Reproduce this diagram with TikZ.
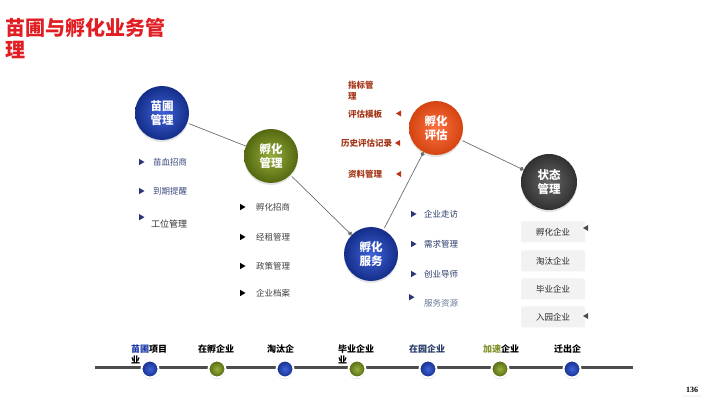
\documentclass[tikz,border=0pt]{standalone}
\usepackage{fontspec}
\setmainfont{Noto Sans CJK SC}
\newfontfamily\numfont{Liberation Serif}
\usetikzlibrary{arrows.meta,shadows}
\definecolor{titlered}{RGB}{225,30,35}
\definecolor{cblue}{RGB}{30,70,210}
\definecolor{cgreen}{RGB}{130,160,25}
\definecolor{corange}{RGB}{250,80,20}
\definecolor{cdark}{RGB}{75,75,75}
\definecolor{evalred}{RGB}{165,55,25}
\definecolor{evaltri}{RGB}{190,50,25}
\definecolor{navy}{RGB}{40,55,120}
\definecolor{bluegray}{RGB}{60,75,125}
\definecolor{slate}{RGB}{40,60,105}
\definecolor{olive}{RGB}{130,145,40}
\definecolor{linegray}{RGB}{110,110,110}
\begin{document}
\begin{tikzpicture}[x=1pt,y=-1pt,
  shadeball/.style={shading=radial, inner color=#1!85!white, outer color=#1!65!black},
  ball/.style={circle, minimum size=54pt, inner sep=0pt, text=white,
    font=\bfseries\fontsize{11.5}{13.5}\selectfont, align=center,
    drop shadow={opacity=0.22, shadow xshift=0pt, shadow yshift=-2pt}},
  conn/.style={draw=linegray, line width=0.7pt, shorten <=2pt},
  dotend/.style={-{Circle[length=4.2pt, width=4.2pt]}},
  item/.style={anchor=west, inner sep=0pt, font=\fontsize{8.5}{10}\selectfont},
  evalitem/.style={anchor=west, inner sep=0pt, font=\bfseries\fontsize{8.5}{10}\selectfont, text=evalred},
  tlabel/.style={anchor=west, inner sep=0pt, font=\bfseries\fontsize{9}{10}\selectfont},
  stbox/.style={fill=black!5, draw=none, rounded corners=2pt, minimum width=64pt, minimum height=21pt, inner sep=0pt},
  tdot/.style={circle, minimum size=17pt, inner sep=0pt, draw=white, line width=2pt,
    drop shadow={opacity=0.3, shadow xshift=0pt, shadow yshift=-1.5pt}}
]
\useasboundingbox (0,0) rectangle (720,411);
\fill[white] (0,0) rectangle (720,411);

% title
\node[anchor=west, inner sep=0pt, font=\bfseries\fontsize{20}{22}\selectfont, text=titlered] (title1) at (5,28) {苗圃与孵化业务管};
\node[anchor=west, inner sep=0pt, font=\bfseries\fontsize{20}{22}\selectfont, text=titlered] (title2) at (5,50) {理};

% circles
\node[ball, shadeball=cblue] (mp) at (162,113) {苗圃\\管理};
\node[ball, shadeball=cgreen] (fhgl) at (271,156) {孵化\\管理};
\node[ball, shading=radial, inner color=corange!80!white, outer color=corange!85!black,
  ] (fhpg) at (436,128) {孵化\\评估};
\node[ball, shadeball=cblue] (fhfw) at (371,254) {孵化\\服务};
\node[ball, shadeball=cdark, minimum size=56pt] (ztgl) at (549,182) {状态\\管理};

% connectors
\draw[conn] (mp) -- (fhgl);
\draw[conn, dotend] (fhgl) -- (fhfw);
\draw[conn, dotend] (fhfw) -- (fhpg);
\draw[conn, dotend] (fhpg) -- (ztgl);

% list 1 (苗圃管理)
\foreach \y in {162,191} \fill[navy] (139,\y-3.2) -- (144.5,\y) -- (139,\y+3.2) -- cycle;
\fill[navy] (139,214) -- (144.5,217.2) -- (139,220.4) -- cycle;
\node[item, text=bluegray] (a1) at (153,162) {苗血招商};
\node[item, text=bluegray] (a2) at (153,191) {到期提醒};
\node[item, text=black!80, font=\fontsize{9}{10}\selectfont] (a3) at (151,224) {工位管理};

% list 2 (孵化管理)
\foreach \y in {207,237,266,293} \fill[black] (240,\y-3.2) -- (245.5,\y) -- (240,\y+3.2) -- cycle;
\node[item, text=black!75] (b1) at (256,207) {孵化招商};
\node[item, text=black!75] (b2) at (256,237) {经租管理};
\node[item, text=black!75] (b3) at (256,266) {政策管理};
\node[item, text=black!75] (b4) at (256,293) {企业档案};

% list 3 (孵化评估)
\node[evalitem] (c1a) at (348,85) {指标管};
\node[evalitem] (c1b) at (348,96) {理};
\node[evalitem] (c2) at (348,114) {评估模板};
\node[evalitem] (c3) at (341,143) {历史评估记录};
\node[evalitem] (c4) at (348,174) {资料管理};
\fill[evaltri] (401,110.5) -- (396,113.5) -- (401,116.5) -- cycle;
\fill[evaltri] (400,140) -- (395,143) -- (400,146) -- cycle;
\fill[evaltri] (401,171) -- (396,174) -- (401,177) -- cycle;

% list 4 (孵化服务)
\foreach \y in {214,244,274} \fill[navy] (411,\y-3.2) -- (416.5,\y) -- (411,\y+3.2) -- cycle;
\fill[navy] (409,294) -- (414.5,297.2) -- (409,300.4) -- cycle;
\node[item, text=slate] (d1) at (424,214) {企业走访};
\node[item, text=slate] (d2) at (424,244) {需求管理};
\node[item, text=slate] (d3) at (424,274) {创业导师};
\node[item, text=slate!70] (d4) at (424,303) {服务资源};

% list 5 (状态管理)
\foreach \y/\t/\n in {232/孵化企业/e1, 261/淘汰企业/e2, 289/毕业企业/e3, 317/入园企业/e4}{
  \node[stbox] (box\n) at (553,\y) {};
  \node[item, text=black!85] (\n) at (536,\y) {\t};
}
\fill[black!70] (588,225) -- (583,228) -- (588,231) -- cycle;
\fill[black!70] (588,313) -- (583,316) -- (588,319) -- cycle;

% timeline
\coordinate (tl0) at (95,368);
\coordinate (tl1) at (633,368);
\draw[line width=3pt, black!70] (tl0) -- (tl1);
\foreach \x/\c/\n in {150/cblue/t1, 217/cgreen/t2, 285/cblue/t3, 357/cgreen/t4, 428/cblue/t5, 500/cgreen/t6, 572/cblue/t7}{
  \node[tdot, shadeball=\c] (\n) at (\x,369) {};
}
\node[tlabel] (l1a) at (131,349) {\textcolor{cblue!80!black}{苗圃}项目};
\node[tlabel] (l1b) at (131,360) {业};
\node[tlabel] (l2) at (198,349) {在孵企业};
\node[tlabel] (l3) at (267,349) {淘汰企};
\node[tlabel] (l4a) at (338,349) {毕业企业};
\node[tlabel] (l4b) at (338,360) {业};
\node[tlabel, text=slate] (l5) at (409,349) {在园企业};
\node[tlabel] (l6) at (483,349) {\textcolor{olive}{加速}企业};
\node[tlabel] (l7) at (554,349) {迁出企};

% page number
\node[fill=white, inner sep=3pt, rounded corners=2pt,
  drop shadow={opacity=0.15, shadow xshift=0pt, shadow yshift=-1pt},
  font=\numfont\bfseries\fontsize{8}{9}\selectfont] (pg) at (692,390) {136};
\end{tikzpicture}
\end{document}
